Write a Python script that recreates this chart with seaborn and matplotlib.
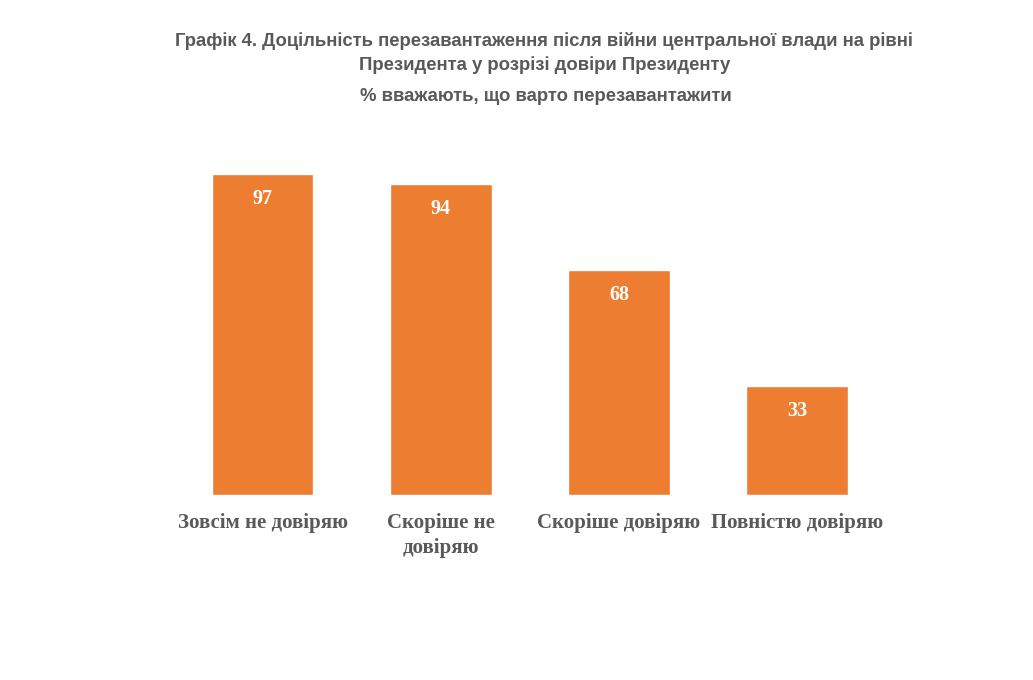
import pandas as pd
import seaborn as sns
import matplotlib.pyplot as plt
from matplotlib import font_manager

categories = ['Зовсім не довіряю', 'Скоріше не\nдовіряю', 'Скоріше довіряю', 'Повністю довіряю']
values = [97, 94, 68, 33]

df = pd.DataFrame({'category': categories, 'value': values})

sns.set_style('white')

names = {f.name for f in font_manager.fontManager.ttflist}
title_font = 'Liberation Sans Narrow' if 'Liberation Sans Narrow' in names else 'Liberation Sans'

fig = plt.figure(figsize=(10.33, 6.8), dpi=100)
ax = fig.add_axes([0.168, 0.272, 0.690, 0.487])

sns.barplot(data=df, x='category', y='value', color='#ED7D31', saturation=1,
            width=0.57, ax=ax)

for i, v in enumerate(values):
    ax.annotate(str(v), xy=(i, v), xytext=(0, -11), textcoords='offset points',
                ha='center', va='top', color='white', fontsize=14.5,
                fontweight='bold', family='Liberation Serif')

ax.set_ylim(0, 100)
ax.set_xlim(-0.5, 3.5)
ax.set_yticks([])
ax.set_xlabel('')
ax.set_ylabel('')
ax.tick_params(axis='x', length=0, pad=13)
for lbl in ax.get_xticklabels():
    lbl.set_fontfamily('Liberation Serif')
    lbl.set_fontweight('bold')
    lbl.set_fontsize(15)
    lbl.set_color('#595959')
    lbl.set_va('top')
    lbl.set_linespacing(1.35)
sns.despine(ax=ax, left=True, bottom=True)

fig.text(0.527, 0.922,
         'Графік 4. Доцільність перезавантаження після війни центральної влади на рівні\nПрезидента у розрізі довіри Президенту',
         ha='center', va='center', fontsize=13.3, fontweight='bold', color='#595959',
         family=title_font, linespacing=1.45)
fig.text(0.528, 0.858, '% вважають, що варто перезавантажити',
         ha='center', va='center', fontsize=13.3, fontweight='bold', color='#595959',
         family=title_font)

fig.savefig('out.png', dpi=100)
